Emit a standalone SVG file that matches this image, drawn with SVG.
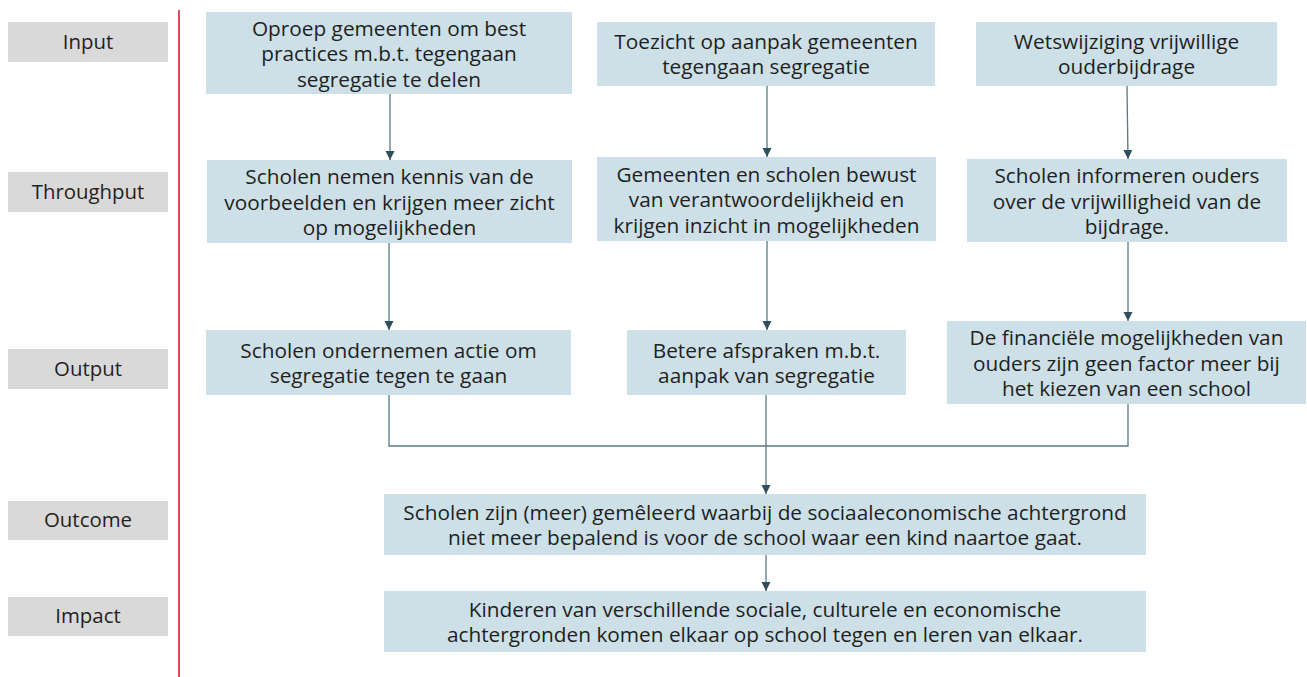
<svg xmlns="http://www.w3.org/2000/svg" width="1307" height="677" viewBox="0 0 1307 677">
<style>
.lbl rect{fill:#d9d9d9}
.node rect{fill:#cde0e7}
text{font-family:"Open Sans","Noto Sans",sans-serif;font-size:20.8px;fill:#1f1f1f;text-anchor:middle}
.lbl text{font-size:20.4px}
.conn{fill:none;stroke:#5a7886;stroke-width:1.3}
</style>
<defs>
<marker id="ah" markerUnits="userSpaceOnUse" markerWidth="10" markerHeight="10" refX="9" refY="4.5" orient="auto">
<path d="M0,0 L9,4.5 L0,9 z" fill="#2f4f5e"/>
</marker>
</defs>
<rect width="1307" height="677" fill="#ffffff"/>
<line x1="179" y1="10" x2="179" y2="677" stroke="#c8102e" stroke-width="1.5"/>
<g id="lbl-input" class="lbl"><rect x="8" y="22" width="160" height="40"/><text x="88" y="49">Input</text></g>
<g id="lbl-throughput" class="lbl"><rect x="8" y="172" width="160" height="40"/><text x="88" y="199">Throughput</text></g>
<g id="lbl-output" class="lbl"><rect x="8" y="349" width="160" height="40"/><text x="88" y="376">Output</text></g>
<g id="lbl-outcome" class="lbl"><rect x="8" y="501" width="160" height="39"/><text x="88" y="527">Outcome</text></g>
<g id="lbl-impact" class="lbl"><rect x="8" y="597" width="160" height="39"/><text x="88" y="623">Impact</text></g>

<g id="n1" class="node"><rect x="206" y="12" width="366" height="82"/>
<text x="389" y="35.5">Oproep gemeenten om best</text><text x="389" y="61">practices m.b.t. tegengaan</text><text x="389" y="86.5">segregatie te delen</text></g>
<g id="n2" class="node"><rect x="597" y="22" width="338" height="64"/>
<text x="766" y="48.5">Toezicht op aanpak gemeenten</text><text x="766" y="74">tegengaan segregatie</text></g>
<g id="n3" class="node"><rect x="976" y="22" width="301" height="64"/>
<text x="1126.5" y="48.5">Wetswijziging vrijwillige</text><text x="1126.5" y="74">ouderbijdrage</text></g>
<g id="n4" class="node"><rect x="207" y="160" width="365" height="83"/>
<text x="389.5" y="184">Scholen nemen kennis van de</text><text x="389.5" y="209.5">voorbeelden en krijgen meer zicht</text><text x="389.5" y="235">op mogelijkheden</text></g>
<g id="n5" class="node"><rect x="597" y="157" width="339" height="84"/>
<text x="766.5" y="181.5">Gemeenten en scholen bewust</text><text x="766.5" y="207">van verantwoordelijkheid  en</text><text x="766.5" y="232.5">krijgen inzicht in mogelijkheden</text></g>
<g id="n6" class="node"><rect x="967" y="159" width="320" height="83"/>
<text x="1127" y="183">Scholen informeren ouders</text><text x="1127" y="208.5">over de vrijwilligheid van de</text><text x="1127" y="234">bijdrage.</text></g>
<g id="n7" class="node"><rect x="206" y="330" width="365" height="65"/>
<text x="388.5" y="357.5">Scholen ondernemen actie om</text><text x="388.5" y="383">segregatie tegen te gaan</text></g>
<g id="n8" class="node"><rect x="627" y="330" width="279" height="65"/>
<text x="766.5" y="357.5">Betere afspraken m.b.t.</text><text x="766.5" y="383">aanpak van segregatie</text></g>
<g id="n9" class="node"><rect x="947" y="321" width="359" height="83"/>
<text x="1126.5" y="345">De financiële mogelijkheden van</text><text x="1126.5" y="370.5">ouders zijn geen factor meer bij</text><text x="1126.5" y="396">het kiezen van een school</text></g>
<g id="n10" class="node"><rect x="384" y="494" width="762" height="61"/>
<text x="765" y="519.5">Scholen zijn (meer) gemêleerd waarbij de sociaaleconomische achtergrond</text><text x="765" y="545">niet meer bepalend is voor de school waar een kind naartoe gaat.</text></g>
<g id="n11" class="node"><rect x="384" y="591" width="762" height="61"/>
<text x="765" y="616.5">Kinderen van verschillende sociale, culturele en economische</text><text x="765" y="642">achtergronden komen elkaar op school tegen en leren van elkaar.</text></g>

<g id="connectors">
<path class="conn" d="M390,94 L390,160" marker-end="url(#ah)"/>
<path class="conn" d="M767,86 L767,157" marker-end="url(#ah)"/>
<path class="conn" d="M1127,86 L1128,159" marker-end="url(#ah)"/>
<path class="conn" d="M389,243 L389,330" marker-end="url(#ah)"/>
<path class="conn" d="M767,241 L767,330" marker-end="url(#ah)"/>
<path class="conn" d="M1128,242 L1128,321" marker-end="url(#ah)"/>
<path class="conn" d="M389,395 L389,446 L1128,446 L1128,404"/>
<path class="conn" d="M766,395 L766,494" marker-end="url(#ah)"/>
<path class="conn" d="M766,555 L766,591" marker-end="url(#ah)"/>
</g>
</svg>
